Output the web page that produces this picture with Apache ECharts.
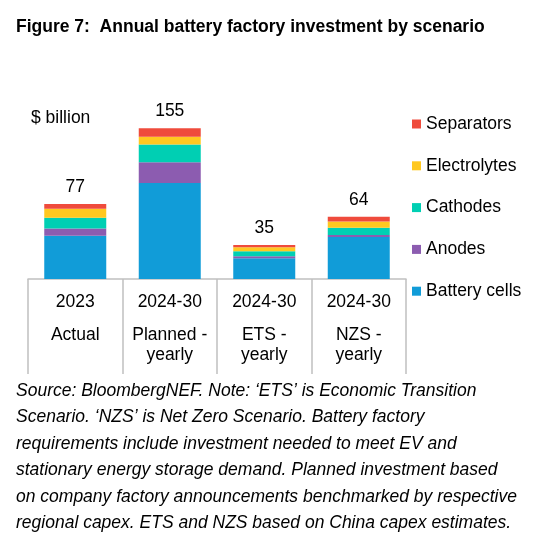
<!DOCTYPE html>
<html>
<head>
<meta charset="utf-8">
<script src="https://cdn.jsdelivr.net/npm/echarts@6/dist/echarts.min.js"></script>
<style>html,body{margin:0;padding:0;background:#fff}#c{width:538px;height:540px}</style>
</head>
<body>
<div id="c"></div>
<script>
var periods = ['2023', '2024-30', '2024-30', '2024-30'];
var scenarios = ['Actual', 'Planned -\nyearly', 'ETS -\nyearly', 'NZS -\nyearly'];
var batteryCells = [44.4, 98.7, 21.4, 43.1];
var anodes = [7.5, 21.3, 2.1, 2.1];
var cathodes = [11.0, 18.2, 4.9, 7.6];
var electrolytes = [9.2, 7.9, 4.2, 6.3];
var separators = [4.9, 8.9, 2.4, 4.9];
var totals = [77, 155, 35, 64];
var seriesNames = ['Battery cells', 'Anodes', 'Cathodes', 'Electrolytes', 'Separators'];
var colors = ['#119CD8', '#8C5CB0', '#00CFB3', '#FFC820', '#EF4B3C'];

var FONT = '"Liberation Sans", Arial, sans-serif';
var chart = echarts.init(document.getElementById('c'), null, {renderer: 'canvas'});

var seriesData = [batteryCells, anodes, cathodes, electrolytes, separators];
var series = seriesData.map(function (d, i) {
  var s = {
    name: seriesNames[i],
    type: 'bar',
    stack: 'total',
    barWidth: 62,
    data: d,
    itemStyle: {color: colors[i]},
    emphasis: {disabled: true}
  };
  if (i === seriesData.length - 1) {
    s.label = {
      show: true,
      position: 'top',
      distance: 8,
      color: '#000',
      fontFamily: FONT,
      fontSize: 17.5,
      formatter: function (p) { return String(totals[p.dataIndex]); }
    };
  }
  return s;
});

chart.setOption({
  backgroundColor: '#fff',
  animation: false,
  color: colors,
  title: {
    text: 'Figure 7:  Annual battery factory investment by scenario',
    left: 11, top: 13,
    textStyle: {fontFamily: FONT, fontSize: 17.5, fontWeight: 'bold', color: '#000'}
  },
  legend: {
    orient: 'vertical',
    left: 407, top: 109,
    itemWidth: 9, itemHeight: 9,
    itemGap: 21.8,
    icon: 'rect',
    data: seriesNames.slice().reverse(),
    textStyle: {fontFamily: FONT, fontSize: 17.5, color: '#000', lineHeight: 20}
  },
  grid: {left: 28, right: 132, top: 100, bottom: 261, containLabel: false},
  xAxis: {
    type: 'category',
    data: periods.map(function (p, i) { return i; }),
    boundaryGap: true,
    axisLine: {show: true, lineStyle: {color: '#C0C0C0', width: 1.5}},
    axisTick: {show: true, interval: 0, length: 95, alignWithLabel: false, lineStyle: {color: '#C0C0C0', width: 1.5}},
    axisLabel: {
      interval: 0,
      margin: 13,
      formatter: function (v, i) {
        var lines = scenarios[i].split('\n').map(function (l) { return '{b|' + l + '}'; });
        return '{a|' + periods[i] + '}\n{g| }\n' + lines.join('\n');
      },
      rich: {
        a: {fontFamily: FONT, fontSize: 17.5, color: '#000', lineHeight: 20},
        g: {fontSize: 1, lineHeight: 13},
        b: {fontFamily: FONT, fontSize: 17.5, color: '#000', lineHeight: 20}
      }
    }
  },
  yAxis: {type: 'value', min: 0, max: 184, show: false},
  series: series,
  graphic: [
    {type: 'text', left: 31, top: 109, style: {text: '$ billion', fontFamily: FONT, fontSize: 17.5, fill: '#000'}},
    {type: 'text', left: 16, top: 378, style: {
      text: 'Source: BloombergNEF. Note: \u2018ETS\u2019 is Economic Transition\nScenario. \u2018NZS\u2019 is Net Zero Scenario. Battery factory\nrequirements include investment needed to meet EV and\nstationary energy storage demand. Planned investment based\non company factory announcements benchmarked by respective\nregional capex. ETS and NZS based on China capex estimates.',
      fontFamily: FONT, fontSize: 17.5, fontStyle: 'italic', fill: '#000', lineHeight: 26.4
    }}
  ]
});
</script>
</body>
</html>
